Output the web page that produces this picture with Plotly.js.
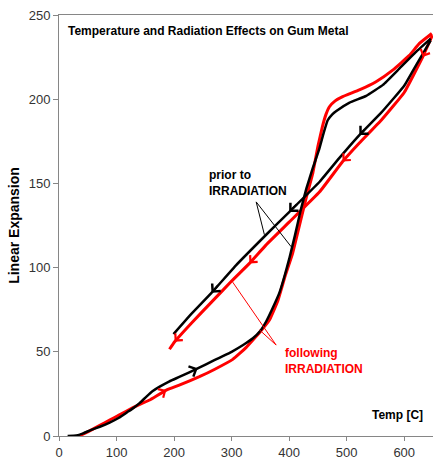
<!DOCTYPE html>
<html>
<head>
<meta charset="utf-8">
<script src="https://cdn.plot.ly/plotly-3.0.1.min.js"></script>
<style>html,body{margin:0;padding:0;background:#fff;}#chart{width:433px;height:461px;}</style>
</head>
<body>
<div id="chart"></div>
<script>
// ---- Data ----
// Prior to irradiation, heating (black)
const priorHeatX = [15, 30, 42, 55, 71, 88, 105, 118, 128.5, 140, 152, 163, 175, 192, 210, 241, 270, 300, 320, 337, 350, 360, 370, 383, 392, 400, 410, 420, 430, 441, 452, 460, 467, 475, 482, 505, 534, 563, 591, 620, 646];
const priorHeatY = [0, 0.3, 1.6, 3.5, 5.5, 8, 11, 14, 16.4, 19.5, 23.4, 26.7, 29.3, 32.5, 35.2, 40.2, 45, 50, 54, 58, 62.5, 68, 75, 85, 95, 105, 119, 134, 147, 159, 170, 180, 187.5, 191, 193, 198, 202, 208.5, 218, 228, 236];
// Prior to irradiation, cooling (black)
const priorCoolX = [646, 622, 600, 560, 522, 487, 453, 400, 360, 308, 265, 230, 199];
const priorCoolY = [235, 221, 208, 192, 178.7, 165, 151, 133, 119.5, 101.5, 85, 72.5, 60.5];
// Following irradiation, heating (red)
const followHeatX = [35, 50, 71, 88, 105, 128.5, 145, 157.5, 186.5, 210, 244, 270, 302, 314, 325, 337, 350, 366, 380, 393, 406, 420, 430, 441, 450, 458, 464, 470, 480, 493, 522, 551, 580, 609, 626, 648];
const followHeatY = [0, 2.5, 6.3, 9.5, 12.5, 16.8, 19.5, 21.4, 27.3, 30.3, 35.2, 39.5, 45.5, 49, 52.5, 57, 62, 69, 80, 95, 108.5, 128, 142, 156, 172, 184, 191, 195.5, 199, 201.5, 205.5, 210.4, 217.3, 226, 233, 239];
// Following irradiation, cooling (red)
const followCoolX = [649, 632, 600, 560, 522, 493, 453, 400, 360, 331, 300, 265, 230, 201, 192];
const followCoolY = [238, 225, 204, 187.5, 174, 163, 145, 127, 113.5, 102.5, 92, 79.5, 67, 56, 51.5];

// Direction arrows: indices into the series above (arrow points toward that index)
const priorHeatArrows = [15, 32];
const priorCoolArrows = [4, 7, 10];
const followHeatArrows = [8, 13, 29, 34];
const followCoolArrows = [1, 5, 9, 13];

// Texts
const titleText = "Temperature and Radiation Effects on Gum Metal";
const yTitle = "Linear Expansion";
const xLabel = "Temp [C]";
const priorLabel = "prior to<br>IRRADIATION";
const followLabel = "following<br>IRRADIATION";
// Leader lines: [fromX, fromY, toX, toY]
const priorLeaders = [[342.7, 139, 357, 119.5], [342.7, 139, 403.5, 112.4]];
const followLeaders = [[377.4, 54, 301.8, 91.4], [377.4, 54, 348.4, 63]];

const RED = '#ff0000', BLACK = '#000000';
const FONT = 'Liberation Sans, Arial, sans-serif';

function lineTrace(x, y, color, width) {
  return {x: x, y: y, mode: 'lines', type: 'scatter', hoverinfo: 'skip',
    line: {color: color, width: width, shape: 'spline', smoothing: 0.3}, showlegend: false};
}

const traces = [
  lineTrace(followHeatX, followHeatY, RED, 3),
  lineTrace(followCoolX, followCoolY, RED, 3),
  lineTrace(priorHeatX, priorHeatY, BLACK, 2.5),
  lineTrace(priorCoolX, priorCoolY, BLACK, 2.5)
];

const annotations = [];
function addArrows(xs, ys, idxs, color, head, width, size) {
  idxs.forEach(i => {
    const f = 0.3;
    annotations.push({
      x: xs[i], y: ys[i], xref: 'x', yref: 'y',
      ax: xs[i] - f * (xs[i] - xs[i - 1]), ay: ys[i] - f * (ys[i] - ys[i - 1]),
      axref: 'x', ayref: 'y', text: '', showarrow: true,
      arrowhead: head, arrowsize: size, arrowwidth: width, arrowcolor: color, standoff: 0
    });
  });
}
addArrows(followHeatX, followHeatY, followHeatArrows, RED, 4, 1.3, 1.5);
addArrows(followCoolX, followCoolY, followCoolArrows, RED, 4, 1.3, 1.5);
addArrows(priorHeatX, priorHeatY, priorHeatArrows, BLACK, 4, 2, 1.1);
addArrows(priorCoolX, priorCoolY, priorCoolArrows, BLACK, 4, 2, 1.1);

annotations.push(
  {text: '<b>' + titleText + '</b>', xref: 'paper', yref: 'paper', x: 0.018, y: 0.962,
   xanchor: 'left', yanchor: 'middle', showarrow: false, font: {family: FONT, size: 12, color: '#000'}},
  {text: '<b>' + xLabel + '</b>', xref: 'paper', yref: 'paper', x: 0.906, y: 0.05,
   xanchor: 'center', yanchor: 'middle', showarrow: false, font: {family: FONT, size: 12, color: '#000'}},
  {text: '<b>' + priorLabel + '</b>', xref: 'paper', yref: 'paper', x: 0.396, y: 0.60,
   xanchor: 'left', yanchor: 'middle', align: 'left', showarrow: false, font: {family: FONT, size: 12, color: '#000'}},
  {text: '<b>' + followLabel + '</b>', xref: 'paper', yref: 'paper', x: 0.598, y: 0.179,
   xanchor: 'left', yanchor: 'middle', align: 'left', showarrow: false, font: {family: FONT, size: 12, color: RED}}
);

const shapes = [];
priorLeaders.forEach(l => shapes.push({type: 'line', xref: 'x', yref: 'y', x0: l[0], y0: l[1], x1: l[2], y1: l[3], line: {color: BLACK, width: 1}}));
followLeaders.forEach(l => shapes.push({type: 'line', xref: 'x', yref: 'y', x0: l[0], y0: l[1], x1: l[2], y1: l[3], line: {color: RED, width: 1}}));

const layout = {
  width: 433, height: 461,
  margin: {l: 59, r: 0, t: 15, b: 25, pad: 0},
  paper_bgcolor: '#fff', plot_bgcolor: '#fff',
  font: {family: FONT},
  xaxis: {range: [0, 650], tickvals: [0, 100, 200, 300, 400, 500, 600], showgrid: false, zeroline: false,
    showline: true, mirror: true, linecolor: '#868686', linewidth: 1, ticks: 'outside', ticklen: 4,
    tickcolor: '#868686', tickfont: {family: FONT, size: 13, color: '#333'}},
  yaxis: {range: [0, 250], tickvals: [0, 50, 100, 150, 200, 250], showgrid: false, zeroline: false,
    showline: true, linecolor: '#868686', linewidth: 1, ticks: 'outside', ticklen: 5,
    tickcolor: '#868686', tickfont: {family: FONT, size: 13, color: '#333'},
    title: {text: '<b>' + yTitle + '</b>', font: {family: FONT, size: 14, color: '#000'}, standoff: 5}},
  annotations: annotations,
  shapes: shapes
};

Plotly.newPlot('chart', traces, layout, {staticPlot: true, displayModeBar: false});
</script>
</body>
</html>
